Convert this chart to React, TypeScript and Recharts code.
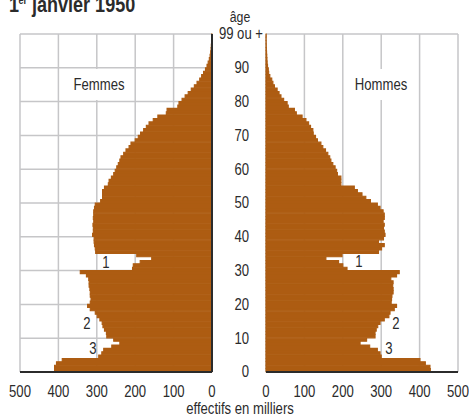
import { BarChart, Bar, XAxis, YAxis, CartesianGrid } from 'recharts';

// effectifs en milliers, index = âge (0 .. 99 ou +)
const FEMMES = [
  410, 410, 405, 390, 295, 287, 282, 261, 240, 256,
  274, 275, 280, 284, 286, 292, 299, 304, 317, 324,
  317, 315, 317, 317, 318, 320, 320, 321, 327, 343,
  207, 205, 187, 157, 196, 303, 304, 306, 307, 307,
  311, 309, 309, 310, 308, 309, 308, 308, 306, 304,
  290, 285, 285, 285, 280, 270, 268, 262, 256, 252,
  248, 244, 240, 237, 230, 224, 216, 211, 200, 192,
  186, 178, 171, 164, 153, 141, 119, 117, 89, 86,
  78, 70, 62, 54, 46, 39, 32, 27, 22, 17,
  13, 10, 7, 5, 3.5, 2.5, 1.8, 1.2, 0.8, 1,
];
const HOMMES = [
  428, 427, 415, 401, 300, 297, 290, 270, 245, 262,
  284, 284, 287, 291, 297, 308, 320, 323, 334, 340,
  326, 327, 328, 331, 331, 330, 331, 325, 340, 347,
  211, 200, 189, 156, 198, 293, 301, 308, 293, 306,
  310, 308, 306, 308, 305, 308, 308, 305, 297, 290,
  272, 260, 250, 238, 230, 195, 195, 195, 186, 184,
  180, 174, 169, 166, 161, 155, 148, 143, 134, 129,
  123, 122, 116, 111, 104, 94, 79, 74, 58, 55,
  46, 39, 34, 29, 22, 18, 15, 10, 7, 6,
  4, 3, 2.5, 2, 1.5, 1, 0.7, 0.5, 0.3, 0.5,
];
const AGE_TICKS = [0, 10, 20, 30, 40, 50, 60, 70, 80, 90, 100];
const EFFECTIF_TICKS = [0, 100, 200, 300, 400, 500];

const BAR = '#ad5c12';
const GRID = '#c6c6c8';
const INK = '#2b2b2b';
const FONT = '"Liberation Sans", Arial, sans-serif';
const PLOT_H = 338;

const rows = FEMMES.map((f, i) => ({ age: i + 0.5, f, h: HOMMES[i] }));

// no Arial Narrow here: squeeze Liberation Sans horizontally instead
function Narrow({ x, y, size = 16, anchor = 'middle', weight, baseline, children }: any) {
  return (
    <g transform={`translate(${x},${y}) scale(0.82,1)`}>
      <text x={0} y={0} fontSize={size} textAnchor={anchor} fontWeight={weight}
        dominantBaseline={baseline} fontFamily={FONT} fill={INK}>
        {children}
      </text>
    </g>
  );
}

function AgeTick({ y, payload }: any) {
  const top = payload.value === 100;
  return (
    <Narrow x={top ? 263 : 249} y={y} anchor="end" baseline="central">
      {top ? '99 ou +' : payload.value}
    </Narrow>
  );
}

function EffTick({ x, payload }: any) {
  return <Narrow x={x} y={392} baseline="central">{payload.value}</Narrow>;
}

export default function App() {
  return (
    <div style={{ position: 'absolute', left: 0, top: 0, width: 469, height: 417, background: '#fff', overflow: 'hidden' }}>
      <div style={{ position: 'absolute', left: 0, top: 0 }}>
        <BarChart width={270} height={417} data={rows} layout="vertical" barCategoryGap={0} barSize={PLOT_H / 100}
          margin={{ top: 34, right: 4, bottom: 15, left: 20 }}>
          <CartesianGrid stroke={GRID} strokeWidth={1.5} />
          <XAxis type="number" domain={[0, 500]} ticks={EFFECTIF_TICKS} reversed interval={0}
            height={30} tickLine={false} axisLine={{ stroke: INK, strokeWidth: 2 }} tick={<EffTick />} />
          <YAxis type="number" dataKey="age" domain={[0, 100]} ticks={AGE_TICKS} interval={0} reversed
            orientation="right" width={54} tickLine={false}
            axisLine={{ stroke: INK, strokeWidth: 2 }} tick={<AgeTick />} />
          <Bar dataKey="f" fill={BAR} stroke={BAR} strokeWidth={1.1} isAnimationActive={false} />
        </BarChart>
      </div>
      <div style={{ position: 'absolute', left: 240, top: 0 }}>
        <BarChart width={229} height={417} data={rows} layout="vertical" barCategoryGap={0} barSize={PLOT_H / 100}
          margin={{ top: 34, right: 11, bottom: 15, left: 26 }}>
          <CartesianGrid stroke={GRID} strokeWidth={1.5} />
          <XAxis type="number" domain={[0, 500]} ticks={EFFECTIF_TICKS} interval={0}
            height={30} tickLine={false} axisLine={{ stroke: INK, strokeWidth: 2 }} tick={<EffTick />} />
          <YAxis type="number" dataKey="age" domain={[0, 100]} ticks={AGE_TICKS} reversed
            width={0} tick={false} tickLine={false} axisLine={{ stroke: INK, strokeWidth: 2 }} />
          <Bar dataKey="h" fill={BAR} stroke={BAR} strokeWidth={1.1} isAnimationActive={false} />
        </BarChart>
      </div>
      <svg width={469} height={417} style={{ position: 'absolute', left: 0, top: 0, pointerEvents: 'none' }}>
        <g transform="translate(9,11.7) scale(0.82,1)">
          <text fontFamily={FONT} fill={INK} fontWeight="bold" fontSize={22}>
            <tspan x={0} y={0}>1</tspan>
            <tspan x={11.6} y={-7.7} fontSize={11}>er</tspan>
            <tspan x={28} y={0}>janvier 1950</tspan>
          </text>
        </g>
        <Narrow x={240} y={22} size={15}>âge</Narrow>
        <Narrow x={240} y={414}>effectifs en milliers</Narrow>

        <rect x={70} y={69} width={58} height={31} fill="#fff" />
        <Narrow x={99} y={90}>Femmes</Narrow>
        <rect x={352} y={69} width={58} height={31} fill="#fff" />
        <Narrow x={381} y={90}>Hommes</Narrow>

        <Narrow x={106} y={268}>1</Narrow>
        <Narrow x={87} y={329}>2</Narrow>
        <Narrow x={93} y={354}>3</Narrow>
        <Narrow x={359} y={267}>1</Narrow>
        <Narrow x={396} y={329}>2</Narrow>
        <Narrow x={389} y={354}>3</Narrow>
      </svg>
    </div>
  );
}
